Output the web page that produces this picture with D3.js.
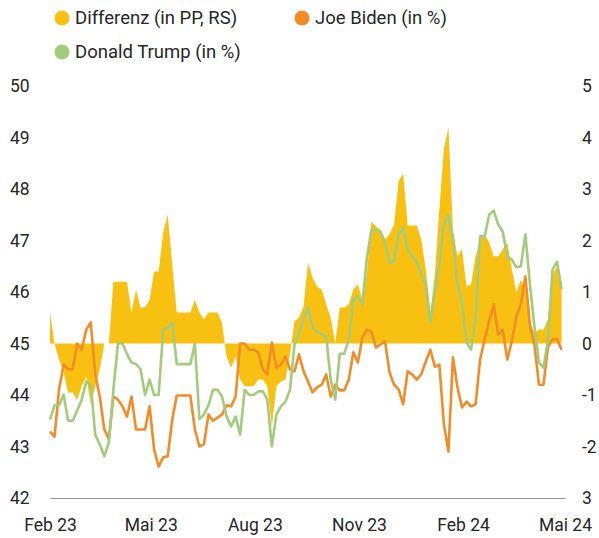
<!DOCTYPE html>
<html>
<meta charset="utf-8">
<style>
    body { margin: 0; background: #fff; }
    text { font-family: Roboto, "DejaVu Sans", sans-serif; fill: #262626; }
    .line { fill: none; stroke-width: 2.6px; stroke-linejoin: round; }
</style>
<body>
<script src="https://cdnjs.cloudflare.com/ajax/libs/d3/7.8.5/d3.min.js"></script>
<script>

    // values, one point every 4 days starting 1 Feb 2023
    var startDate = new Date(2023, 1, 1);
    var stepDays = 4;

    var trump = [
        43.52, 43.80, 43.80, 44.01, 43.50, 43.50, 43.70, 43.91, 44.26, 44.20,
        43.23, 43.04, 42.81, 43.08, 44.10, 45.00, 45.00, 44.80, 44.63, 44.60,
        44.50, 44.00, 44.30, 44.00, 44.00, 45.27, 45.30, 45.40, 44.60, 44.60,
        44.60, 44.60, 45.00, 43.53, 43.62, 43.80, 44.10, 44.10, 43.97, 43.58,
        43.39, 43.58, 43.23, 44.10, 44.00, 44.00, 44.07, 44.07, 43.91, 43.00,
        43.62, 43.78, 43.87, 44.10, 44.98, 45.21, 45.47, 45.70, 45.31, 45.23,
        45.17, 45.14, 44.30, 43.91, 44.80, 44.80, 45.08, 45.85, 45.91, 45.76,
        46.67, 47.21, 47.21, 47.17, 46.96, 46.57, 46.59, 47.12, 47.25, 46.83,
        46.69, 46.59, 46.34, 46.15, 45.41, 46.01, 46.53, 47.31, 47.50, 47.02,
        46.15, 45.80, 45.02, 44.88, 45.47, 47.08, 47.08, 47.50, 47.58, 47.31,
        47.17, 46.69, 46.63, 46.48, 46.50, 47.12, 46.15, 45.33, 44.63, 44.53,
        45.08, 46.44, 46.59, 46.05
    ];

    var biden = [
        43.29, 43.19, 44.11, 44.59, 44.50, 44.50, 45.00, 44.88, 45.27, 45.41,
        44.40, 43.97, 43.33, 43.14, 43.97, 43.91, 43.78, 43.58, 43.97, 43.33,
        43.33, 43.33, 43.78, 42.94, 42.61, 42.79, 42.81, 43.52, 43.99, 43.99,
        43.99, 43.99, 43.33, 43.00, 43.04, 43.62, 43.50, 43.56, 43.62, 43.80,
        43.78, 43.97, 45.00, 45.00, 44.88, 44.88, 44.83, 44.50, 44.40, 45.02,
        44.53, 44.59, 44.75, 44.50, 44.46, 44.79, 44.46, 44.26, 44.05, 44.15,
        44.20, 44.40, 43.97, 44.20, 44.09, 44.09, 44.30, 44.83, 44.63, 45.12,
        45.27, 45.23, 44.92, 44.98, 45.04, 44.44, 44.20, 44.11, 43.82, 44.46,
        44.40, 44.30, 44.40, 44.65, 44.88, 44.55, 44.59, 43.43, 42.90, 44.73,
        44.15, 43.76, 43.87, 43.78, 43.82, 44.69, 45.08, 45.43, 45.76, 45.17,
        45.27, 44.69, 45.04, 45.52, 45.76, 46.30, 45.37, 44.98, 44.20, 44.20,
        44.94, 45.08, 45.08, 44.88
    ];

    // Differenz in Prozentpunkten, rechte Skala
    var diff = [
        0.60, 0.00, -0.31, -0.56, -0.95, -0.95, -1.10, -0.83, -0.64, -1.18,
        -0.83, -0.50, 0.00, 0.00, 1.20, 1.20, 1.20, 1.20, 0.60, 1.05,
        0.70, 0.70, 0.85, 1.40, 1.40, 2.15, 2.50, 1.53, 0.60, 0.60,
        0.60, 0.60, 0.85, 0.60, 0.47, 0.60, 0.60, 0.60, 0.39, -0.25,
        -0.47, -0.25, -0.70, -0.83, -0.83, -0.83, -0.70, -0.70, -0.83, -1.61,
        -0.83, -0.74, -0.70, -0.21, 0.43, 0.50, 0.72, 1.57, 1.28, 1.10,
        1.05, 0.76, 0.50, 0.00, 0.70, 0.70, 0.76, 1.05, 1.15, 0.85,
        1.38, 2.37, 2.27, 2.21, 2.02, 2.12, 2.31, 3.15, 3.30, 2.29,
        2.29, 2.29, 2.02, 1.44, 0.60, 1.34, 2.60, 3.77, 4.20, 2.20,
        1.70, 1.83, 1.10, 1.15, 1.69, 2.02, 2.12, 1.96, 1.69, 1.69,
        1.83, 1.96, 1.44, 0.99, 1.24, 1.05, 0.37, 0.21, 0.27, 0.27,
        0.47, 1.34, 1.50, 1.18
    ];

    var leftTicks = [42, 43, 44, 45, 46, 47, 48, 49, 50];
    var rightTicks = [-3, -2, -1, 0, 1, 2, 3, 4, 5];
    var rightTickLabels = ["3", "-2", "-1", "0", "1", "2", "3", "4", "5"];
    var monthTicks = [new Date(2023, 1, 1), new Date(2023, 4, 1), new Date(2023, 7, 1),
                      new Date(2023, 10, 1), new Date(2024, 1, 1), new Date(2024, 4, 1)];
    var monthLabels = ["Feb 23", "Mai 23", "Aug 23", "Nov 23", "Feb 24", "Mai 24"];

    var legendNames = ["Differenz (in PP, RS)", "Joe Biden (in %)", "Donald Trump (in %)"];
    var colors = { diff: "#f8c112", biden: "#f38b26", trump: "#a2cb7b" };

    var width = 599, height = 538;

    var svg = d3.select("body").append("svg")
        .attr("width", width)
        .attr("height", height);

    var data = trump.map(function (t, i) {
        return {
            date: d3.timeDay.offset(startDate, i * stepDays),
            trump: t,
            biden: biden[i],
            diff: diff[i]
        };
    });

    // set the ranges
    var x = d3.scaleTime()
        .domain([monthTicks[0], monthTicks[monthTicks.length - 1]])
        .range([50, 565]);
    var yL = d3.scaleLinear().domain([42, 50]).range([498, 86]);
    var yR = d3.scaleLinear().domain([-3, 5]).range([498, 86]);

    // difference area against the right axis
    var area = d3.area()
        .x(function (d) { return x(d.date); })
        .y0(yR(0))
        .y1(function (d) { return yR(d.diff); });

    svg.append("path")
        .datum(data)
        .attr("fill", colors.diff)
        .attr("d", area);

    var bidenLine = d3.line()
        .x(function (d) { return x(d.date); })
        .y(function (d) { return yL(d.biden); });
    var trumpLine = d3.line()
        .x(function (d) { return x(d.date); })
        .y(function (d) { return yL(d.trump); });

    svg.append("path")
        .datum(data)
        .attr("class", "line")
        .style("stroke", colors.biden)
        .attr("d", bidenLine);

    svg.append("path")
        .datum(data)
        .attr("class", "line")
        .style("stroke", colors.trump)
        .attr("d", trumpLine);

    // bottom axis line
    var xAxis = svg.append("g")
        .attr("transform", "translate(0," + yL(42) + ")")
        .call(d3.axisBottom(x).tickValues(monthTicks).tickSize(0)
            .tickFormat(function (d, i) { return monthLabels[i]; }));
    xAxis.select(".domain").attr("stroke", "#9a9a9a").attr("stroke-width", 1);
    xAxis.selectAll("text")
        .attr("dy", null)
        .attr("y", 33)
        .style("font-size", "17.5px")
        .style("fill", "#262626")
        .style("font-family", "Roboto, 'DejaVu Sans', sans-serif");

    // left labels
    svg.append("g").selectAll("text")
        .data(leftTicks)
        .enter().append("text")
        .attr("x", 10)
        .attr("y", function (d) { return yL(d); })
        .attr("dy", "0.35em")
        .style("font-size", "17.5px")
        .text(function (d) { return d; });

    // right labels
    svg.append("g").selectAll("text")
        .data(rightTicks)
        .enter().append("text")
        .attr("x", 582)
        .attr("y", function (d) { return yR(d); })
        .attr("dy", "0.35em")
        .style("font-size", "17.5px")
        .text(function (d, i) { return rightTickLabels[i]; });

    // legend
    var legendPos = [[62, 18], [302, 18], [62, 52]];
    var legendColors = [colors.diff, colors.biden, colors.trump];
    var legend = svg.append("g").selectAll("g")
        .data(legendNames)
        .enter().append("g")
        .attr("transform", function (d, i) {
            return "translate(" + legendPos[i][0] + "," + legendPos[i][1] + ")";
        });
    legend.append("circle")
        .attr("r", 7.5)
        .attr("fill", function (d, i) { return legendColors[i]; });
    legend.append("text")
        .attr("x", 13)
        .attr("dy", "0.35em")
        .style("font-size", "18.5px")
        .text(function (d) { return d; });

</script>
</body>
</html>
